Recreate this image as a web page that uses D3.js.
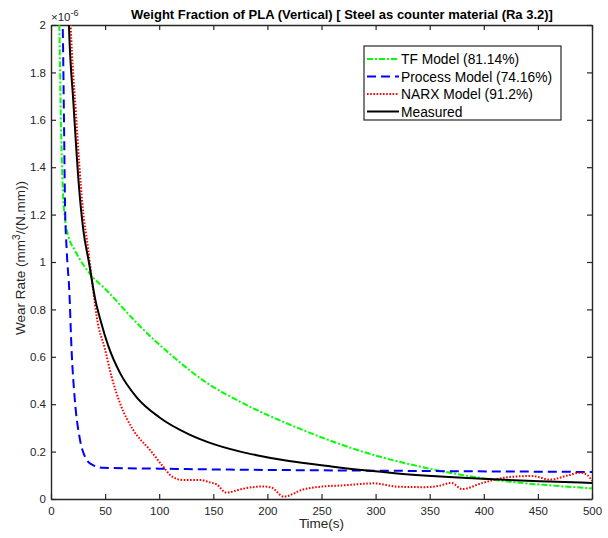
<!DOCTYPE html>
<html><head><meta charset="utf-8">
<script src="https://cdn.jsdelivr.net/npm/d3@7"></script>
<style>
body{margin:0;background:#fff;}
svg{display:block;font-family:"Liberation Sans",Arial,Helvetica,sans-serif;}
</style></head>
<body>
<svg id="chart" width="608" height="538"></svg>
<script>
// values in units of 1e-6 mm^3/(N.mm)
const tfModel = [[7,2.1],[7.7,2.0],[9,1.63],[11,1.3],[13,1.18],[16,1.11],[22,1.05],[36,0.95],[51.5,0.88],[82,0.73],[113,0.6],[144,0.49],[175,0.41],[228,0.3],[290,0.197],[352,0.126],[414,0.078],[460,0.058],[500,0.045]];
const processModel = [[10,2.1],[10.8,2.0],[12,1.6],[13,1.23],[14.5,1.05],[17,0.87],[19,0.63],[22,0.42],[26.8,0.25],[31.4,0.178],[36,0.15],[48,0.132],[100,0.128],[165,0.124],[250,0.121],[350,0.118],[500,0.114]];
const narxModel = [[16,2.3],[18.2,2.0],[23,1.63],[29.3,1.23],[34.5,1.05],[39,0.88],[42.2,0.77],[50,0.63],[56,0.516],[63.8,0.404],[76,0.291],[91.5,0.207],[103.8,0.136],[112,0.094],[122,0.08],[138,0.08],[147,0.07],[153,0.062],[162,0.027],[177,0.043],[196,0.053],[204,0.048],[215,0.01],[233,0.04],[258,0.055],[268,0.057],[299,0.066],[320,0.052],[345,0.05],[358,0.055],[370,0.068],[380,0.042],[399,0.068],[424,0.093],[445,0.097],[461,0.082],[478,0.1],[489,0.111],[496,0.1],[500,0.076]];
const measured = [[14,2.5],[16.6,2.0],[20.6,1.68],[26,1.31],[30,1.13],[35,1.0],[41,0.84],[46,0.75],[53,0.645],[64,0.53],[79,0.43],[100,0.345],[128,0.272],[145,0.24],[175,0.2],[190,0.185],[220,0.16],[258,0.138],[290,0.121],[320,0.108],[360,0.095],[414,0.082],[460,0.074],[500,0.068]];
const xTicks = [0,50,100,150,200,250,300,350,400,450,500];
const yTicks = [0,0.2,0.4,0.6,0.8,1,1.2,1.4,1.6,1.8,2];
const seriesNames = ["TF Model (81.14%)","Process Model (74.16%)","NARX Model (91.2%)","Measured"];

const svg = d3.select("#chart");
const L=51, R=592, T=25, B=499;
const x = d3.scaleLinear().domain([0,500]).range([L,R]);
const y = d3.scaleLinear().domain([0,2]).range([B,T]);
const axisCol = "#262626";

svg.append("defs").append("clipPath").attr("id","clip")
  .append("rect").attr("x",L).attr("y",T).attr("width",R-L).attr("height",B-T);

// axes (box with inward ticks)
const tickLen = 5;
const gx = svg.append("g").attr("transform",`translate(0,${B})`)
  .call(d3.axisBottom(x).tickValues(xTicks).tickSizeInner(-tickLen).tickSizeOuter(0).tickPadding(8).tickFormat(d3.format("d")));
const gxt = svg.append("g").attr("transform",`translate(0,${T})`)
  .call(d3.axisTop(x).tickValues(xTicks).tickSizeInner(-tickLen).tickSizeOuter(0).tickFormat(""));
const gy = svg.append("g").attr("transform",`translate(${L},0)`)
  .call(d3.axisLeft(y).tickValues(yTicks).tickSizeInner(-tickLen).tickSizeOuter(0).tickPadding(5).tickFormat(d3.format("~g")));
const gyr = svg.append("g").attr("transform",`translate(${R},0)`)
  .call(d3.axisRight(y).tickValues(yTicks).tickSizeInner(-tickLen).tickSizeOuter(0).tickFormat(""));
[gx,gxt,gy,gyr].forEach(g=>{
  g.select(".domain").attr("stroke",axisCol).attr("stroke-width",1.4);
  g.selectAll(".tick line").attr("stroke",axisCol).attr("stroke-width",1.2);
  g.selectAll(".tick text").attr("fill",axisCol).style("font-size","11.5px");
});

// series
const line = d3.line().x(d=>x(d[0])).y(d=>y(d[1])).curve(d3.curveMonotoneX);
const styles = [
  {data:tfModel, color:"#00ff00", dash:"6,2,2,2"},
  {data:processModel, color:"#0000ff", dash:"9,5"},
  {data:narxModel, color:"#ff0000", dash:"1.6,1.6"},
  {data:measured, color:"#000000", dash:null}
];
const gl = svg.append("g").attr("clip-path","url(#clip)");
styles.forEach(s=>{
  gl.append("path").datum(s.data).attr("d",line)
    .attr("fill","none").attr("stroke",s.color).attr("stroke-width",2)
    .attr("stroke-dasharray",s.dash);
});

// exponent label
const ex = svg.append("text").attr("x",L).attr("y",21).attr("fill",axisCol).style("font-size","11.5px");
ex.append("tspan").text("\u00d710");
ex.append("tspan").attr("dy",-5).style("font-size","9px").text("-6");

// title
svg.append("text").attr("x",342).attr("y",19).attr("text-anchor","middle")
  .style("font-size","13px").style("font-weight","bold").attr("fill","#000")
  .text("Weight Fraction of PLA (Vertical) [ Steel as counter material (Ra 3.2)]");

// axis labels
svg.append("text").attr("x",(L+R)/2).attr("y",528).attr("text-anchor","middle")
  .attr("fill",axisCol).style("font-size","13.5px").text("Time(s)");
const yl = svg.append("text").attr("transform",`translate(25,258) rotate(-90)`)
  .attr("text-anchor","middle").attr("fill",axisCol).style("font-size","13.5px");
yl.append("tspan").text("Wear Rate (mm");
yl.append("tspan").attr("dy",-5).style("font-size","10px").text("3");
yl.append("tspan").attr("dy",5).text("/(N.mm))");

// legend
const lg = svg.append("g");
lg.append("rect").attr("x",364).attr("y",46).attr("width",197).attr("height",74)
  .attr("fill","#fff").attr("stroke",axisCol).attr("stroke-width",1.2);
seriesNames.forEach((n,i)=>{
  const yy = 59 + i*17.5;
  lg.append("line").attr("x1",367).attr("x2",399).attr("y1",yy).attr("y2",yy)
    .attr("stroke",styles[i].color).attr("stroke-width",2).attr("stroke-dasharray",styles[i].dash);
  lg.append("text").attr("x",401).attr("y",yy+5).style("font-size","13.8px").attr("fill","#000").text(n);
});
</script>
</body></html>
